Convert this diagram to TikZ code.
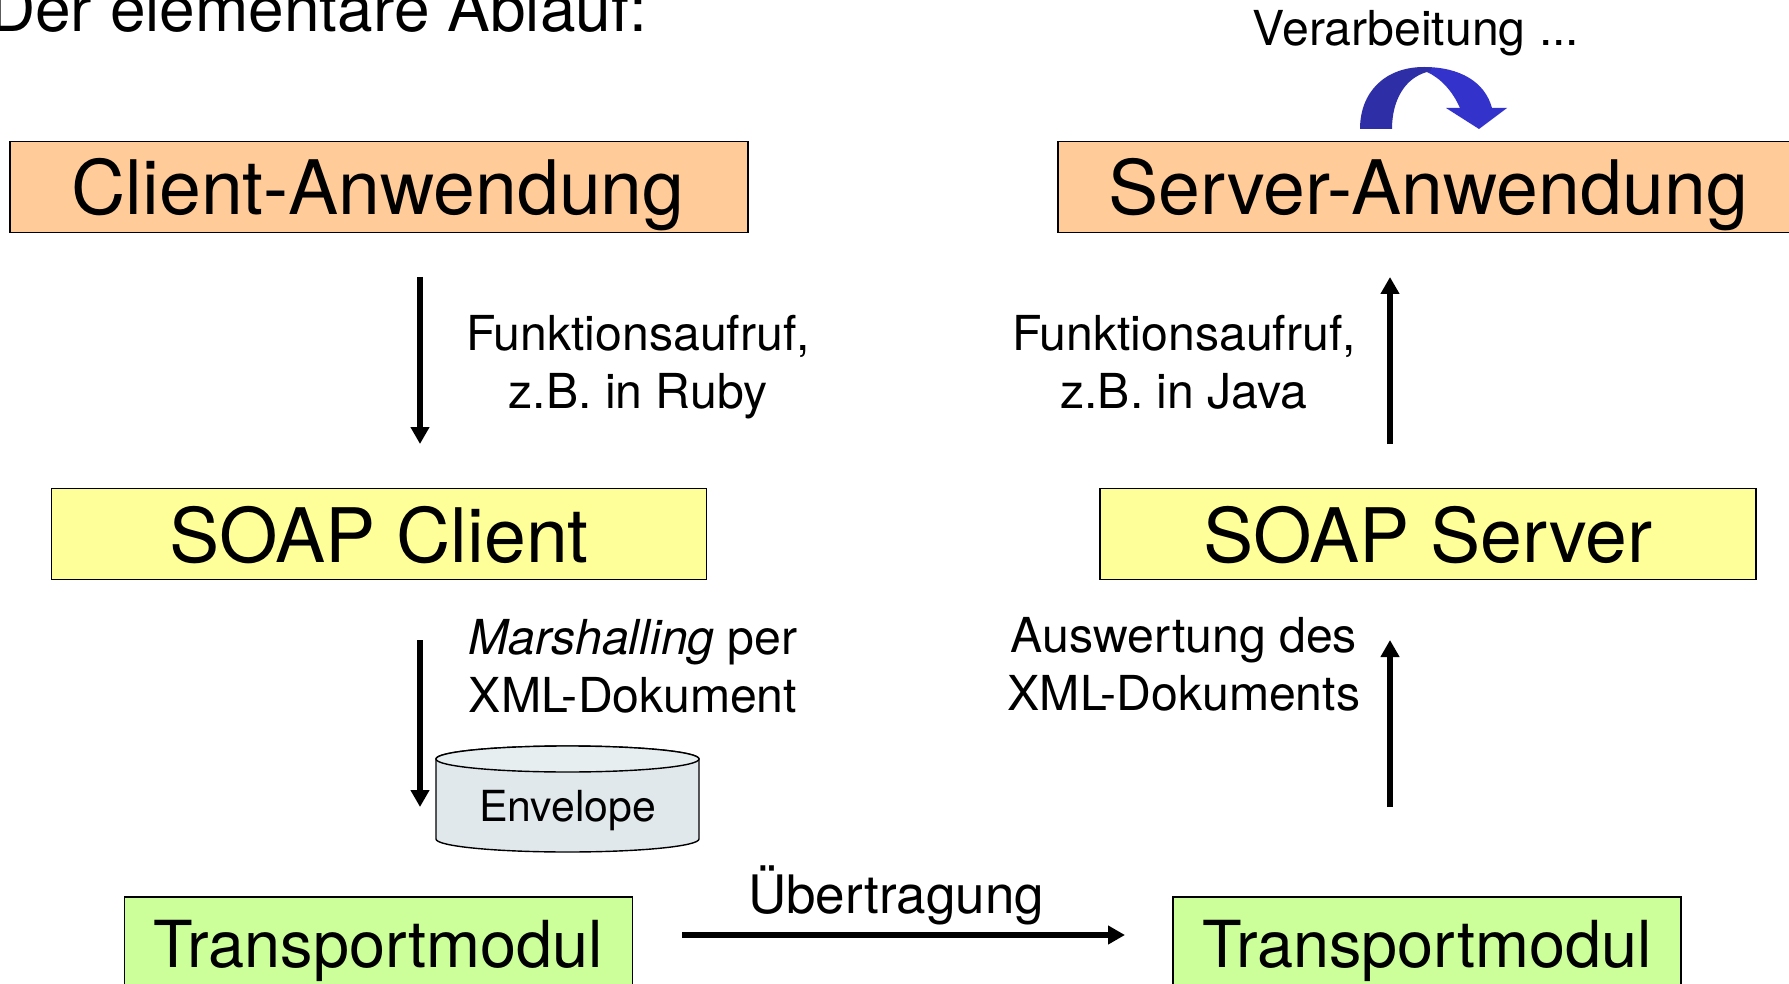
\documentclass[tikz,border=0pt]{standalone}
\usepackage{fontspec}
\setmainfont{TeX Gyre Heros}
\usetikzlibrary{arrows.meta}
\definecolor{boxorange}{HTML}{FFCC99}
\definecolor{boxyellow}{HTML}{FFFF99}
\definecolor{boxgreen}{HTML}{CCFF99}
\definecolor{cyl}{HTML}{E1E8EB}
\definecolor{cyltop}{HTML}{E6EEF0}
\definecolor{arcA}{HTML}{2E2EA6}
\definecolor{arcB}{HTML}{3333CC}
\tikzset{
  bigbox/.style={draw=black,line width=1.4pt,inner sep=0pt,anchor=center},
  lbl/.style={inner sep=0pt,font=\fontsize{48.2}{58}\selectfont,align=center},
  big/.style={inner sep=0pt,font=\fontsize{75.2}{80}\selectfont},
  mid/.style={inner sep=0pt,font=\fontsize{64.8}{70}\selectfont},
  flow/.style={line width=6.5pt,-{Triangle[length=17pt,width=18pt]}},
}
\begin{document}
\begin{tikzpicture}[x=1pt,y=-1pt]
\useasboundingbox (0,0) rectangle (1789,984);
\clip (0,0) rectangle (1789,984);
\fill[white] (0,0) rectangle (1789,984);
% title
\node[lbl,anchor=base west,font=\fontsize{64}{70}\selectfont] (title) at (-11,32) {Der elementare Ablauf:};
\node[lbl,anchor=base] (verarb) at (1416,46) {Verarbeitung ...};
% boxes
\node[bigbox,fill=boxorange,minimum width=738pt,minimum height=91pt] (client) at (379,187) {};
\node[big] (clientt) at (378,195) {Client-Anwendung};
\node[bigbox,fill=boxorange,minimum width=760pt,minimum height=91pt] (serverbg) at (1438,187) {};
\node[big] (server) at (1428,195) {Server-Anwendung};
\node[bigbox,fill=boxyellow,minimum width=655pt,minimum height=91pt] (soapc) at (379,534) {};
\node[big] (soapct) at (379,535.5) {SOAP Client};
\node[bigbox,fill=boxyellow,minimum width=656pt,minimum height=91pt] (soaps) at (1428,534) {};
\node[big] (soapst) at (1428,535.5) {SOAP Server};
\node[bigbox,fill=boxgreen,minimum width=508pt,minimum height=91pt] (tcbg) at (378.5,942.5) {};
\node[mid] (tc) at (378.5,951) {Transportmodul};
\node[bigbox,fill=boxgreen,minimum width=508pt,minimum height=91pt] (tsbg) at (1427,942.5) {};
\node[mid] (ts) at (1427,951) {Transportmodul};
% labels
\node[lbl] (l1) at (638,367) {Funktionsaufruf,\\z.B. in Ruby};
\node[lbl] (l2) at (1184,362) {Funktionsaufruf,\\z.B. in Java};
\node[lbl] (l3) at (633,666) {\textit{Marshalling} per\\XML-Dokument};
\node[lbl] (l4) at (1184,664) {Auswertung des\\XML-Dokuments};
\node[lbl,anchor=base,font=\fontsize{53}{60}\selectfont] (l5) at (896,913) {Übertragung};
% cylinder
\path[fill=cyl,draw=black,line width=1.4pt] (436,759) -- (436,839) arc[start angle=180,end angle=360,x radius=131.5pt,y radius=13pt] -- (699,759) arc[start angle=0,end angle=180,x radius=131.5pt,y radius=13pt] -- cycle;
\path[fill=cyltop,draw=black,line width=1.4pt] (567.5,759) ellipse[x radius=131.5pt,y radius=13pt];
\node[inner sep=0pt,font=\fontsize{42.8}{48}\selectfont] (env) at (567.5,811) {Envelope};
% arrows
\coordinate (a1s) at (420,277); \coordinate (a1e) at (420,444);
\coordinate (a2s) at (420,640); \coordinate (a2e) at (420,807);
\coordinate (a3s) at (1390,444); \coordinate (a3e) at (1390,277);
\coordinate (a4s) at (1390,807); \coordinate (a4e) at (1390,640);
\coordinate (a5s) at (682,935); \coordinate (a5e) at (1125,935);
\draw[flow] (a1s) -- (a1e);
\draw[flow] (a2s) -- (a2e);
\draw[flow] (a3s) -- (a3e);
\draw[flow] (a4s) -- (a4e);
\draw[flow] (a5s) -- (a5e);
% curved arrow
\fill[arcB] (1424,67) .. controls (1460,67) and (1485,82) .. (1492,108) -- (1507,108) -- (1479,129) -- (1446,108) -- (1460,108) .. controls (1452,90) and (1440,78) .. (1427,72) -- cycle;
\fill[arcA] (1360,129) .. controls (1360,92) and (1385,67) .. (1424,67) .. controls (1430,67) and (1436,70) .. (1427,72) .. controls (1405,78) and (1392,100) .. (1392,129) -- cycle;
\end{tikzpicture}
\end{document}
